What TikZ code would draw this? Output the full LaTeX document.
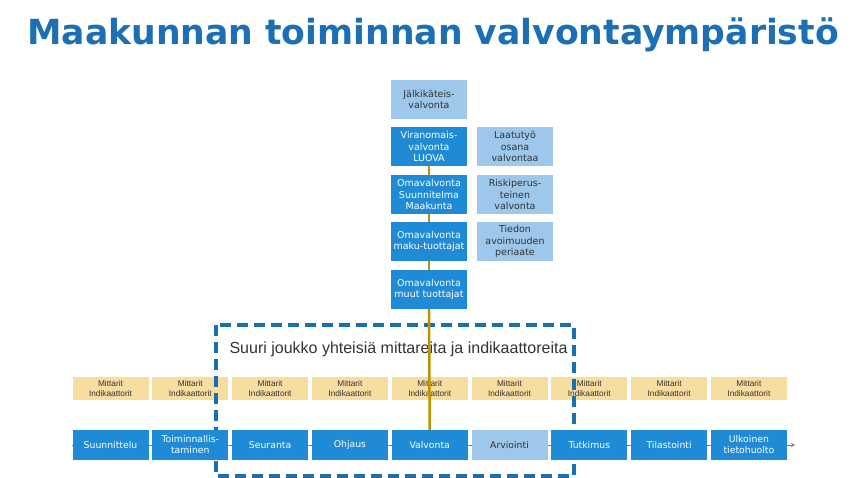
\documentclass[tikz,border=0pt]{standalone}
\usepackage{fontspec}
\setmainfont{DejaVu Sans}
\newfontfamily\arialfont{Liberation Sans}
\usetikzlibrary{backgrounds,arrows.meta}
\definecolor{titleblue}{RGB}{27,111,178}
\definecolor{dashblue}{RGB}{25,112,175}
\definecolor{boxblue}{RGB}{31,139,214}
\definecolor{paleblue}{RGB}{157,200,235}
\definecolor{metrictan}{RGB}{248,221,160}
\definecolor{gold}{RGB}{191,144,0}
\definecolor{textgrey}{RGB}{51,51,51}

\begin{document}
\begin{tikzpicture}[x=1pt,y=-1pt,
  box/.style={fill=boxblue,text=white,minimum width=76pt,minimum height=39pt,inner sep=1pt,align=center,font=\fontsize{9.5}{11.5}\selectfont},
  palebox/.style={box,fill=paleblue,text=textgrey},
  metric/.style={fill=metrictan,text=textgrey,minimum width=76pt,minimum height=23pt,inner sep=0pt,align=center,font=\arialfont\fontsize{8.3}{10}\selectfont},
  stage/.style={box,minimum height=30pt,font=\fontsize{9.3}{11}\selectfont},
  palestage/.style={stage,fill=paleblue,text=textgrey},
  goldline/.style={gold,line width=2.5pt},
  flowline/.style={gray,line width=1pt,-{Stealth[length=4pt,width=4pt]}},
  groupbox/.style={dashblue,line width=3.5pt,dash pattern=on 11pt off 6pt}
]
  \useasboundingbox (0,0) rectangle (864,478);
  \node[text=titleblue,font=\bfseries\fontsize{34.6}{38}\selectfont] (title) at (433,35) {Maakunnan toiminnan valvontaympäristö};

  % valvonnan tasot
  \node[palebox] (jalki) at (429,99.5) {Jälkikäteis-\\valvonta};
  \node[box] (viran) at (429,146.5) {Viranomais-\\valvonta\\LUOVA};
  \node[box] (omasuun) at (429,194.5) {Omavalvonta\\Suunnitelma\\Maakunta};
  \node[box] (omamaku) at (429,241.5) {Omavalvonta\\maku-tuottajat};
  \node[box] (omamuut) at (429,289.5) {Omavalvonta\\muut tuottajat};
  \node[palebox] (laatu) at (515,146.5) {Laatutyö\\osana\\valvontaa};
  \node[palebox] (riski) at (515,194.5) {Riskiperus-\\teinen\\valvonta};
  \node[palebox] (tiedon) at (515,241.5) {Tiedon\\avoimuuden\\periaate};

  \foreach \i in {1,...,9}{ \node[metric] (m\i) at ({110.5+79.8*(\i-1)},388.5) {Mittarit\\Indikaattorit}; }

  \draw[groupbox] (216,325) rectangle (574,476);
  \node[anchor=west,text=textgrey,font=\arialfont\fontsize{16}{18}\selectfont] (suuri) at (226,349) {Suuri joukko yhteisiä mittareita ja indikaattoreita};

  \foreach \i/\t/\s in {1/Suunnittelu/stage,2/{Toiminnallis-\\taminen}/stage,3/Seuranta/stage,4/Ohjaus/stage,5/Valvonta/stage,
      6/Arviointi/palestage,7/Tutkimus/stage,8/Tilastointi/stage,9/{Ulkoinen\\tietohuolto}/stage}{
    \node[\s] (p\i) at ({110.5+79.8*(\i-1)},445) {\t};
  }
  \coordinate (flowend) at (795,445);

  \foreach \a/\b in {viran/omasuun,omasuun/omamaku,omamaku/omamuut,omamuut/p5}{ \draw[goldline] (\a.south) -- (\b.north); }

  \begin{pgfonlayer}{background}
    \draw[flowline] (p1.west) -- (flowend);
  \end{pgfonlayer}
\end{tikzpicture}
\end{document}
